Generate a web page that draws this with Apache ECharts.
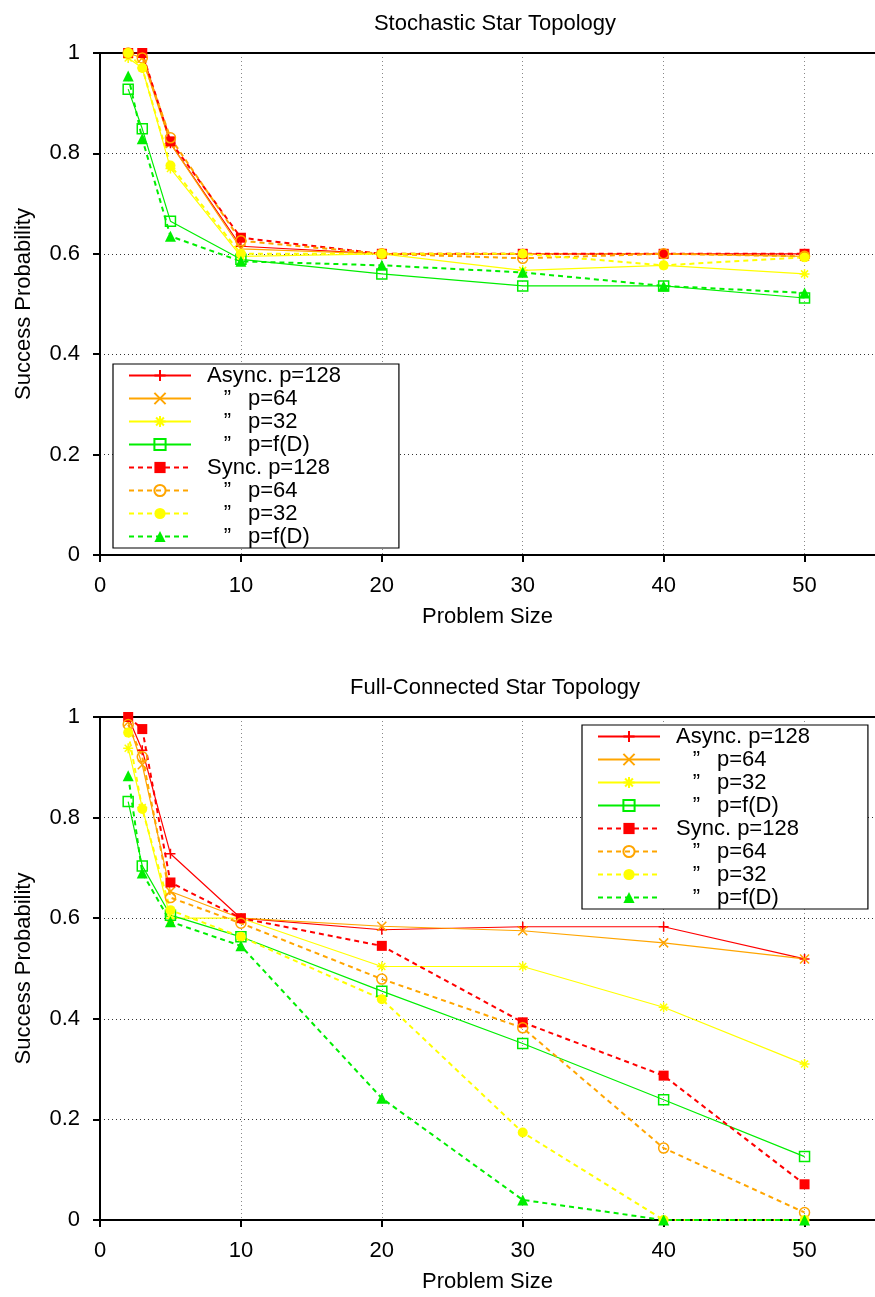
<!DOCTYPE html>
<html lang="en">
<head>
    <meta charset="UTF-8">
    <title>Star Topology</title>
    <script type="text/javascript" src="https://cdn.jsdelivr.net/npm/echarts@6/dist/echarts.min.js"></script>
    <style>
        body { margin: 0; background: #fff; }
    </style>
</head>
<body>
<div id="main" style="width: 875px; height: 1297px"></div>

<script type="text/javascript">
    // problem sizes (x axis)
    var problemSize = [2, 3, 5, 10, 20, 30, 40, 50];

    // Stochastic Star Topology
    var stoAsync128 = [1.0, 1.0, 0.82, 0.615, 0.60, 0.60, 0.60, 0.60];
    var stoAsync64 = [1.0, 0.99, 0.82, 0.61, 0.60, 0.60, 0.60, 0.595];
    var stoAsync32 = [0.99, 0.97, 0.77, 0.595, 0.60, 0.567, 0.577, 0.56];
    var stoAsyncFD = [0.928, 0.849, 0.665, 0.589, 0.56, 0.536, 0.536, 0.512];
    var stoSync128 = [1.0, 1.0, 0.824, 0.632, 0.60, 0.60, 0.60, 0.60];
    var stoSync64 = [1.0, 0.99, 0.831, 0.626, 0.60, 0.591, 0.60, 0.595];
    var stoSync32 = [1.0, 0.97, 0.776, 0.60, 0.60, 0.60, 0.577, 0.593];
    var stoSyncFD = [0.954, 0.829, 0.635, 0.585, 0.577, 0.563, 0.536, 0.522];

    // Full-Connected Star Topology
    var fcAsync128 = [1.0, 0.934, 0.728, 0.60, 0.577, 0.583, 0.583, 0.519];
    var fcAsync64 = [0.99, 0.905, 0.653, 0.60, 0.584, 0.575, 0.551, 0.519];
    var fcAsync32 = [0.938, 0.82, 0.60, 0.60, 0.504, 0.504, 0.423, 0.310];
    var fcAsyncFD = [0.832, 0.704, 0.606, 0.563, 0.455, 0.351, 0.239, 0.126];
    var fcSync128 = [1.0, 0.976, 0.671, 0.60, 0.545, 0.393, 0.287, 0.071];
    var fcSync64 = [0.985, 0.921, 0.641, 0.59, 0.479, 0.382, 0.143, 0.015];
    var fcSync32 = [0.969, 0.817, 0.616, 0.563, 0.439, 0.174, 0, 0];
    var fcSyncFD = [0.883, 0.690, 0.593, 0.545, 0.242, 0.040, 0, 0];

    var seriesNames = ['Async. p=128', 'Async. p=64', 'Async. p=32', 'Async. p=f(D)',
                       'Sync. p=128', 'Sync. p=64', 'Sync. p=32', 'Sync. p=f(D)'];
    var yTicks = [0, 0.2, 0.4, 0.6, 0.8, 1];

    var FONT = 'Liberation Sans, Arial, sans-serif';
    var RED = '#ff0000', ORANGE = '#ffa500', YELLOW = '#ffff00', GREEN = '#00ee00';

    var plusPath = 'path://M0,5L10,5M5,0L5,10';
    var crossPath = 'path://M0,0L10,10M10,0L0,10';
    var starPath = 'path://M0,5L10,5M5,0L5,10M1.5,1.5L8.5,8.5M8.5,1.5L1.5,8.5';
    var boxPath = 'path://M0,0L10,0L10,10L0,10Z';

    // look of each series (same in both charts)
    var looks = [
        {color: RED, dash: false, symbol: plusPath, hollow: true, size: 10},
        {color: ORANGE, dash: false, symbol: crossPath, hollow: true, size: 9},
        {color: YELLOW, dash: false, symbol: starPath, hollow: true, size: 10},
        {color: GREEN, dash: false, symbol: boxPath, hollow: true, size: 10},
        {color: RED, dash: true, symbol: 'rect', hollow: false, size: 10},
        {color: ORANGE, dash: true, symbol: 'circle', hollow: true, size: 10},
        {color: YELLOW, dash: true, symbol: 'circle', hollow: false, size: 10},
        {color: GREEN, dash: true, symbol: 'triangle', hollow: false, size: 11}
    ];

    function makeSeries(name, values, idx, gridIdx) {
        var lk = looks[idx];
        return {
            name: name,
            type: 'line',
            xAxisIndex: gridIdx * 2,
            yAxisIndex: gridIdx,
            data: problemSize.map(function (x, i) { return [x, values[i]]; }),
            symbol: lk.symbol,
            symbolSize: lk.size,
            clip: false,
            lineStyle: {
                color: lk.color,
                width: lk.dash ? 2 : 1.2,
                type: lk.dash ? [5, 4] : 'solid'
            },
            itemStyle: lk.hollow
                ? {color: 'rgba(0,0,0,0)', borderColor: lk.color, borderWidth: 1.5}
                : {color: lk.color, borderColor: lk.color, borderWidth: 0},
            emphasis: {disabled: true},
            animation: false
        };
    }

    var topSets = [stoAsync128, stoAsync64, stoAsync32, stoAsyncFD, stoSync128, stoSync64, stoSync32, stoSyncFD];
    var botSets = [fcAsync128, fcAsync64, fcAsync32, fcAsyncFD, fcSync128, fcSync64, fcSync32, fcSyncFD];

    var series = [];
    for (var i = 0; i < 8; i++) series.push(makeSeries(seriesNames[i], topSets[i], i, 0));
    for (var j = 0; j < 8; j++) series.push(makeSeries(seriesNames[j], botSets[j], j, 1));

    function legendText(name) {
        if (name.indexOf('p=128') >= 0) return name;
        return '{q|\u201d}{p|' + name.split(' ')[1] + '}';
    }

    function makeLegend(left, top) {
        return {
            orient: 'vertical',
            left: left,
            top: top,
            data: seriesNames,
            itemWidth: 62,
            itemHeight: 14,
            itemGap: 0,
            padding: [0, 58, 0, 15],
            borderColor: '#000',
            borderWidth: 1.2,
            backgroundColor: '#fff',
            selectedMode: false,
            formatter: legendText,
            textStyle: {
                fontFamily: FONT, fontSize: 22, color: '#000', lineHeight: 23,
                padding: [0, 0, 0, 11],
                rich: {
                    q: {fontFamily: FONT, fontSize: 22, width: 41, align: 'center', lineHeight: 23},
                    p: {fontFamily: FONT, fontSize: 22, lineHeight: 23}
                }
            }
        };
    }

    function xMain(gridIdx) {
        return {
            type: 'value', gridIndex: gridIdx, min: 0, max: 55, interval: 10,
            name: 'Problem Size', nameLocation: 'middle', nameGap: 51,
            nameTextStyle: {fontFamily: FONT, fontSize: 22, color: '#000'},
            axisLine: {show: true, onZero: false, lineStyle: {color: '#000', width: 2}},
            axisTick: {show: true, length: 7, lineStyle: {color: '#000', width: 2}},
            axisLabel: {fontFamily: FONT, fontSize: 22, color: '#000', margin: 20, showMaxLabel: false},
            splitLine: {show: true, lineStyle: {color: '#888', type: [1, 3], width: 1}}
        };
    }

    function xTop(gridIdx) {
        return {
            type: 'value', gridIndex: gridIdx, min: 0, max: 55, position: 'top',
            axisLine: {show: true, onZero: false, lineStyle: {color: '#000', width: 2}},
            axisTick: {show: false}, axisLabel: {show: false}, splitLine: {show: false}
        };
    }

    function yMain(gridIdx) {
        return {
            type: 'value', gridIndex: gridIdx, min: yTicks[0], max: yTicks[yTicks.length - 1], interval: 0.2,
            name: 'Success Probability', nameLocation: 'middle', nameGap: 65,
            nameTextStyle: {fontFamily: FONT, fontSize: 22, color: '#000'},
            axisLine: {show: true, lineStyle: {color: '#000', width: 2}},
            axisTick: {show: true, length: 7, lineStyle: {color: '#000', width: 2}},
            axisLabel: {fontFamily: FONT, fontSize: 22, color: '#000', margin: 20},
            splitLine: {show: true, lineStyle: {color: '#333', type: [1, 3], width: 1}}
        };
    }

    var myChart = echarts.init(document.getElementById('main'));

    var option = {
        backgroundColor: '#fff',
        animation: false,
        title: [
            {text: 'Stochastic Star Topology', left: 490, textAlign: 'center', top: 8,
             textStyle: {fontFamily: FONT, fontSize: 22, fontWeight: 'normal', color: '#000'}},
            {text: 'Full-Connected Star Topology', left: 490, textAlign: 'center', top: 672,
             textStyle: {fontFamily: FONT, fontSize: 22, fontWeight: 'normal', color: '#000'}}
        ],
        grid: [
            {left: 100, top: 53, width: 781, height: 502},
            {left: 100, top: 717, width: 781, height: 503}
        ],
        legend: [makeLegend(113, 364), makeLegend(582, 725)],
        xAxis: [xMain(0), xTop(0), xMain(1), xTop(1)],
        yAxis: [yMain(0), yMain(1)],
        series: series
    };

    myChart.setOption(option);
</script>
</body>
</html>
